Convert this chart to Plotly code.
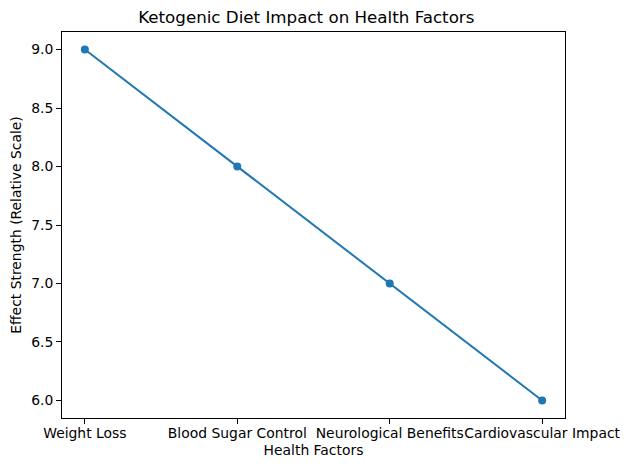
import plotly.graph_objects as go

categories = ["Weight Loss", "Blood Sugar Control", "Neurological Benefits", "Cardiovascular Impact"]
values = [9, 8, 7, 6]
y_ticks = [6.0, 6.5, 7.0, 7.5, 8.0, 8.5, 9.0]

# page body has an 8px margin; compensate in figure margins
W, H = 629, 470
fig = go.Figure()
fig.add_trace(go.Scatter(
    x=list(range(len(categories))), y=values, mode="lines+markers",
    line=dict(color="#1f77b4", width=2),
    marker=dict(color="#1f77b4", size=8),
))
font = "DejaVu Sans"
fig.update_layout(
    width=W, height=H,
    margin=dict(l=54, r=72, t=24, b=60),
    paper_bgcolor="white", plot_bgcolor="white",
    showlegend=False,
    font=dict(family=font, size=13.9, color="black"),
    title=dict(text="Ketogenic Diet Impact on Health Factors", x=(54 + (W - 72 - 54) / 2) / W,
               xanchor="center", xref="paper",
               y=1 - 9 / H, yanchor="middle", font=dict(size=16.7, family=font)),
)
fig.update_xaxes(
    range=[-0.15, 3.15], tickmode="array", tickvals=list(range(len(categories))),
    ticktext=categories, tickangle=0, showgrid=False, zeroline=False, automargin=False,
    showline=True, linecolor="black", linewidth=1, mirror=True,
    ticks="outside", ticklen=5, tickcolor="black", ticklabelstandoff=-3,
    title=dict(text="Health Factors", font=dict(size=13.9), standoff=5),
)
fig.update_yaxes(
    range=[5.85, 9.15], tickmode="array", tickvals=y_ticks,
    ticktext=[f"{v:.1f}" for v in y_ticks], showgrid=False, zeroline=False, automargin=False,
    showline=True, linecolor="black", linewidth=1, mirror=True,
    ticks="outside", ticklen=5, tickcolor="black",
    title=dict(text="Effect Strength (Relative Scale)", font=dict(size=13.9), standoff=6),
)
fig.write_html("out.html")
